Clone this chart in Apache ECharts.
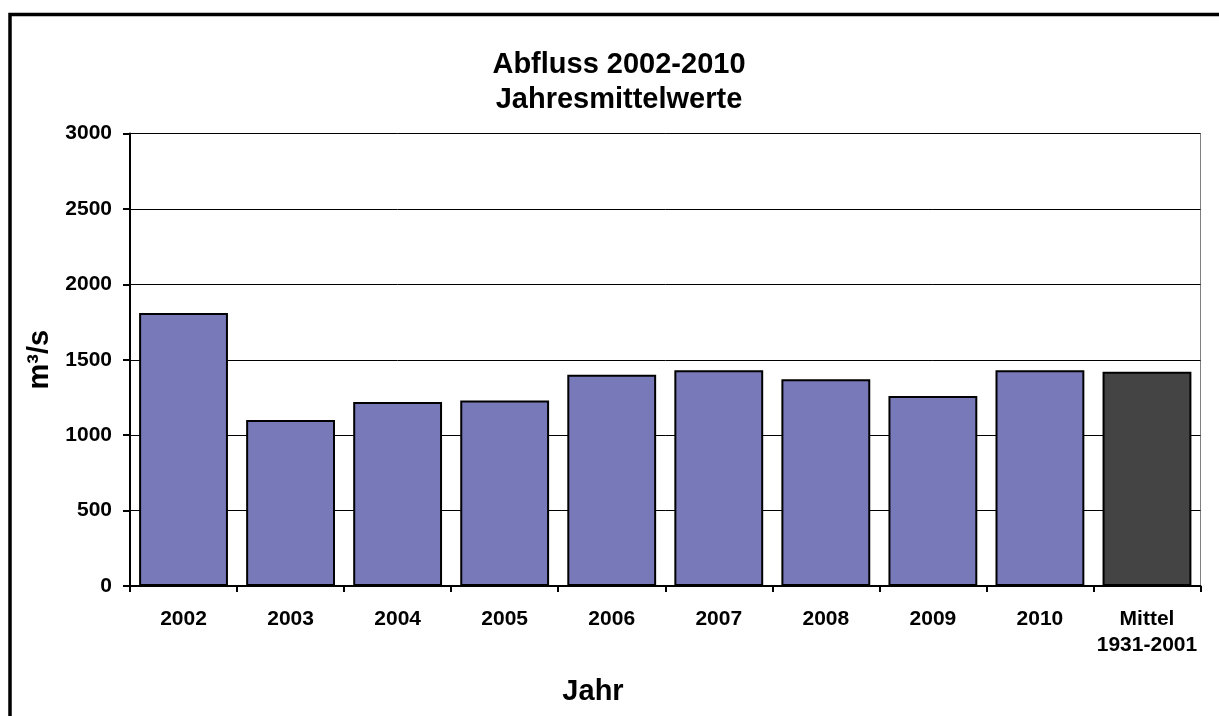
<!DOCTYPE html>
<html>
<head>
<meta charset="utf-8">
<title>Abfluss 2002-2010</title>
<script src="https://cdn.jsdelivr.net/npm/echarts@6/dist/echarts.min.js"></script>
<style>
    html, body { margin: 0; padding: 0; background: #fff; }
    #chart { width: 1219px; height: 716px; }
</style>
</head>
<body>
<div id="chart"></div>
<script>
// Jahresmittelwerte Abfluss (m³/s)
var categories = ['2002', '2003', '2004', '2005', '2006', '2007', '2008', '2009', '2010', 'Mittel\n1931-2001'];
var values = [1810, 1100, 1220, 1230, 1400, 1430, 1370, 1260, 1430, 1420];
var yTicks = [0, 500, 1000, 1500, 2000, 2500, 3000];

var font = "'Liberation Sans', Arial, sans-serif";
var barColor = '#7779b9';
var meanColor = '#444444';

var chart = echarts.init(document.getElementById('chart'));

var barData = values.map(function(v, i) {
    return {
        value: v,
        itemStyle: { color: i == values.length - 1 ? meanColor : barColor }
    };
});

var option = {
    animation: false,
    backgroundColor: '#fff',
    textStyle: { fontFamily: font },
    title: [{
        text: 'Abfluss 2002-2010\nJahresmittelwerte',
        left: 614,
        top: 42,
        textAlign: 'center',
        textStyle: { fontFamily: font, fontSize: 29, fontWeight: 'bold', color: '#000', lineHeight: 35 }
    }, {
        text: 'Jahr',
        left: 588,
        top: 672,
        textAlign: 'center',
        textStyle: { fontFamily: font, fontSize: 29, fontWeight: 'bold', color: '#000' }
    }],
    graphic: [{
        type: 'rect',
        shape: { x: 10, y: 14.5, width: 1400, height: 900 },
        style: { fill: null, stroke: '#000', lineWidth: 3.5 },
        silent: true
    }],
    grid: {
        left: 130,
        top: 133.5,
        right: 18.5,
        bottom: 130,
        show: true,
        borderColor: '#808080',
        borderWidth: 1
    },
    xAxis: {
        type: 'category',
        data: categories,
        axisLine: { lineStyle: { color: '#000', width: 2 } },
        axisTick: { show: true, length: 6, lineStyle: { color: '#000', width: 2 } },
        axisLabel: {
            color: '#000', fontSize: 21, fontWeight: 'bold', fontFamily: font,
            margin: 20, lineHeight: 26, interval: 0
        }
    },
    yAxis: {
        type: 'value',
        min: yTicks[0],
        max: yTicks[yTicks.length - 1],
        interval: 500,
        name: 'm³/s',
        nameLocation: 'middle',
        nameGap: 66,
        nameRotate: 90,
        nameTextStyle: { fontFamily: font, fontSize: 29, fontWeight: 'bold', color: '#000' },
        axisLine: { show: true, lineStyle: { color: '#000', width: 2 } },
        axisTick: { show: true, length: 7, lineStyle: { color: '#000', width: 2 } },
        axisLabel: {
            color: '#000', fontSize: 21, fontWeight: 'bold', fontFamily: font, margin: 18,
            formatter: function(v) { return String(v); }
        },
        splitLine: { show: true, lineStyle: { color: '#000', width: 1 } }
    },
    series: [{
        type: 'bar',
        data: barData,
        barCategoryGap: '17%',
        itemStyle: { borderColor: '#000', borderWidth: 2 }
    }]
};

chart.setOption(option);
</script>
</body>
</html>
